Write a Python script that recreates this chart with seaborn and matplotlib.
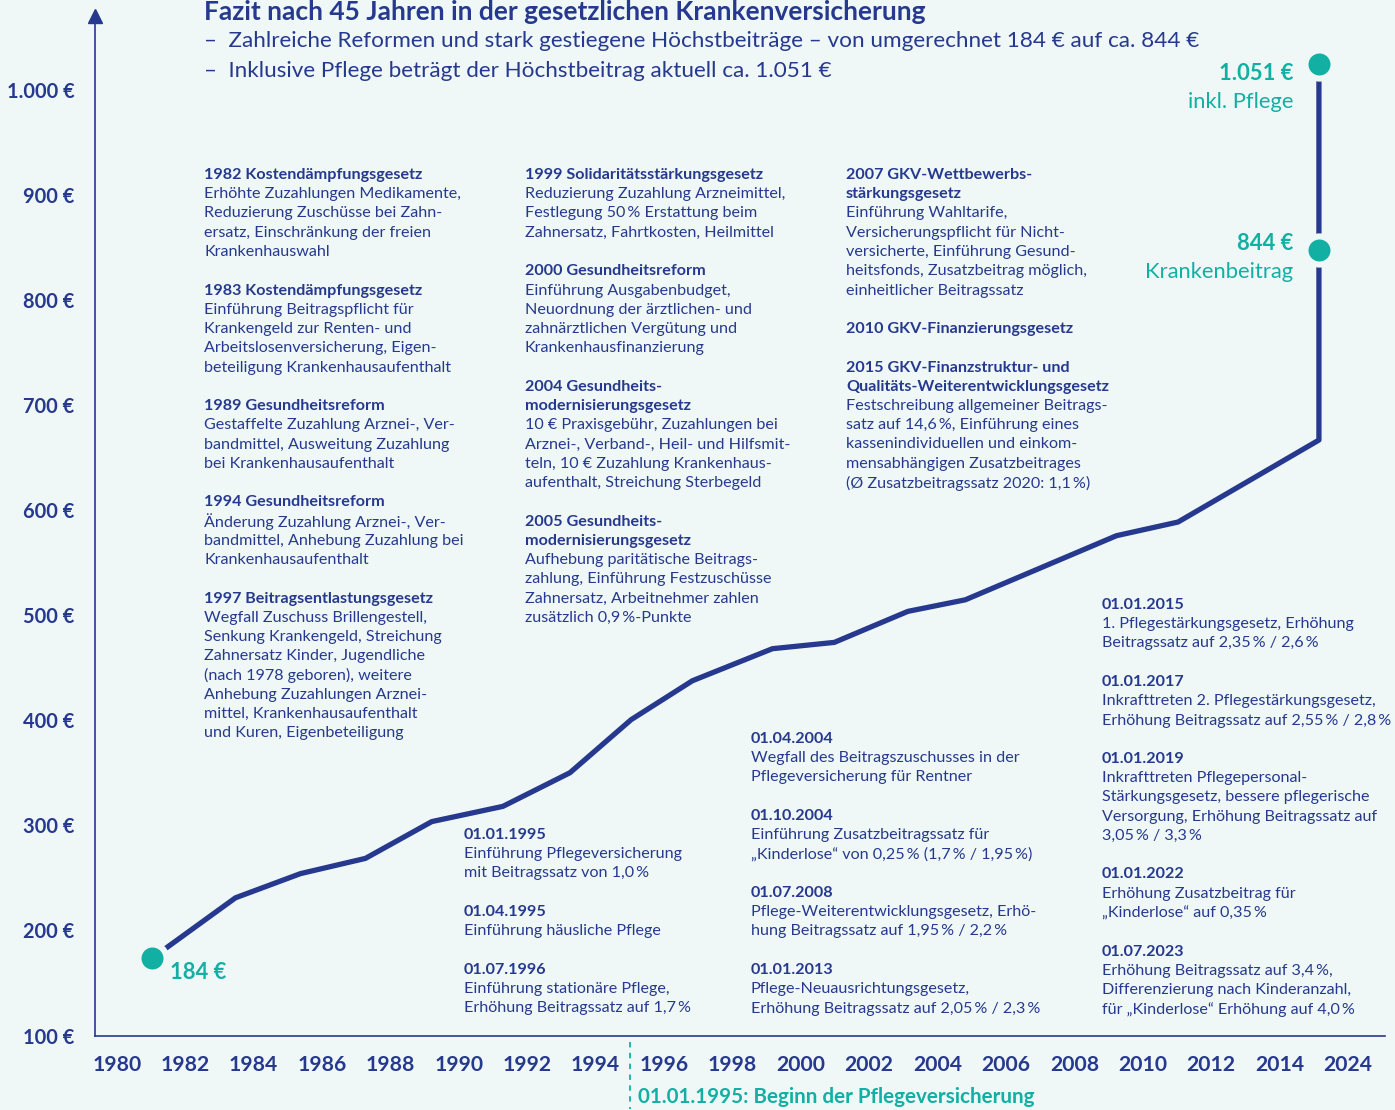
import matplotlib.pyplot as plt
import seaborn as sns
import pandas as pd

W, H = 1395, 1110
BG = '#eff8f7'
NAVY = '#26398e'
TEAL = '#12b0a3'

# line data (Höchstbeitrag in €)
jahre = [1981.03, 1983.47, 1985.37, 1987.27, 1989.21, 1991.29, 1993.25, 1995.04,
         1996.83, 1999.17, 2000.98, 2003.13, 2004.81, 2009.23, 2011.03, 2015.15,
         2015.15, 2015.15]
beitrag = [173.5, 231, 254, 268.5, 303.5, 318, 350, 400.5,
           437.5, 468, 474, 503.5, 514.5, 575.5, 588.5, 666.5,
           847.5, 1024]

# highlighted points
punkt_jahre = [1981.03, 2015.15, 2015.15]
punkt_werte = [173.5, 847.5, 1024]

x_ticks = list(range(1980, 2017, 2))
x_labels = [str(j) for j in range(1980, 2015, 2)] + ['2024']
y_ticks = [100, 200, 300, 400, 500, 600, 700, 800, 900, 1000]
y_labels = ['100 €', '200 €', '300 €', '400 €', '500 €', '600 €', '700 €',
            '800 €', '900 €', '1.000 €']

pflege_start = 1995.0

title = 'Fazit nach 45 Jahren in der gesetzlichen Krankenversicherung'
subtitle = ['–  Zahlreiche Reformen und stark gestiegene Höchstbeiträge – von umgerechnet 184 € auf ca. 844 €',
            '–  Inklusive Pflege beträgt der Höchstbeitrag aktuell ca. 1.051 €']

# "*" = bold line, "" = empty line
col_1 = ['*1982 Kostendämpfungsgesetz', 'Erhöhte Zuzahlungen Medikamente,',
         'Reduzierung Zuschüsse bei Zahn-', 'ersatz, Einschränkung der freien',
         'Krankenhauswahl', '',
         '*1983 Kostendämpfungsgesetz', 'Einführung Beitragspflicht für',
         'Krankengeld zur Renten- und', 'Arbeitslosenversicherung, Eigen-',
         'beteiligung Krankenhausaufenthalt', '',
         '*1989 Gesundheitsreform', 'Gestaffelte Zuzahlung Arznei-, Ver-',
         'bandmittel, Ausweitung Zuzahlung', 'bei Krankenhausaufenthalt', '',
         '*1994 Gesundheitsreform', 'Änderung Zuzahlung Arznei-, Ver-',
         'bandmittel, Anhebung Zuzahlung bei', 'Krankenhausaufenthalt', '',
         '*1997 Beitragsentlastungsgesetz', 'Wegfall Zuschuss Brillengestell,',
         'Senkung Krankengeld, Streichung', 'Zahnersatz Kinder, Jugendliche',
         '(nach 1978 geboren), weitere', 'Anhebung Zuzahlungen Arznei-',
         'mittel, Krankenhausaufenthalt', 'und Kuren, Eigenbeteiligung']

col_2 = ['*1999 Solidaritätsstärkungsgesetz', 'Reduzierung Zuzahlung Arzneimittel,',
         'Festlegung 50\u2009% Erstattung beim', 'Zahnersatz, Fahrtkosten, Heilmittel', '',
         '*2000 Gesundheitsreform', 'Einführung Ausgabenbudget,',
         'Neuordnung der ärztlichen- und', 'zahnärztlichen Vergütung und',
         'Krankenhausfinanzierung', '',
         '*2004 Gesundheits-', '*modernisierungsgesetz',
         '10 € Praxisgebühr, Zuzahlungen bei', 'Arznei-, Verband-, Heil- und Hilfsmit-',
         'teln, 10 € Zuzahlung Krankenhaus-', 'aufenthalt, Streichung Sterbegeld', '',
         '*2005 Gesundheits-', '*modernisierungsgesetz',
         'Aufhebung paritätische Beitrags-', 'zahlung, Einführung Festzuschüsse',
         'Zahnersatz, Arbeitnehmer zahlen', 'zusätzlich 0,9\u2009%-Punkte']

col_3 = ['*2007 GKV-Wettbewerbs-', '*stärkungsgesetz', 'Einführung Wahltarife,',
         'Versicherungspflicht für Nicht-', 'versicherte, Einführung Gesund-',
         'heitsfonds, Zusatzbeitrag möglich,', 'einheitlicher Beitragssatz', '',
         '*2010 GKV-Finanzierungsgesetz', '',
         '*2015 GKV-Finanzstruktur- und', '*Qualitäts-Weiterentwicklungsgesetz',
         'Festschreibung allgemeiner Beitrags-', 'satz auf 14,6\u2009%, Einführung eines',
         'kassenindividuellen und einkom-', 'mensabhängigen Zusatzbeitrages',
         '(Ø Zusatzbeitragssatz 2020: 1,1\u2009%)']

col_4 = ['*01.01.1995', 'Einführung Pflegeversicherung', 'mit Beitragssatz von 1,0\u2009%', '',
         '*01.04.1995', 'Einführung häusliche Pflege', '',
         '*01.07.1996', 'Einführung stationäre Pflege,', 'Erhöhung Beitragssatz auf 1,7\u2009%']

col_5 = ['*01.04.2004', 'Wegfall des Beitragszuschusses in der', 'Pflegeversicherung für Rentner', '',
         '*01.10.2004', 'Einführung Zusatzbeitragssatz für',
         '„Kinderlose“ von 0,25\u2009% (1,7\u2009% / 1,95\u2009%)', '',
         '*01.07.2008', 'Pflege-Weiterentwicklungsgesetz, Erhö-',
         'hung Beitragssatz auf 1,95\u2009% / 2,2\u2009%', '',
         '*01.01.2013', 'Pflege-Neuausrichtungsgesetz,',
         'Erhöhung Beitragssatz auf 2,05\u2009% / 2,3\u2009%']

col_6 = ['*01.01.2015', '1. Pflegestärkungsgesetz, Erhöhung', 'Beitragssatz auf 2,35\u2009% / 2,6\u2009%', '',
         '*01.01.2017', 'Inkrafttreten 2. Pflegestärkungsgesetz,',
         'Erhöhung Beitragssatz auf 2,55\u2009% / 2,8\u2009%', '',
         '*01.01.2019', 'Inkrafttreten Pflegepersonal-', 'Stärkungsgesetz, bessere pflegerische',
         'Versorgung, Erhöhung Beitragssatz auf', '3,05\u2009% / 3,3\u2009%', '',
         '*01.01.2022', 'Erhöhung Zusatzbeitrag für', '„Kinderlose“ auf 0,35\u2009%', '',
         '*01.07.2023', 'Erhöhung Beitragssatz auf 3,4\u2009%,', 'Differenzierung nach Kinderanzahl,',
         'für „Kinderlose“ Erhöhung auf 4,0\u2009%']

sns.set_theme(style='white')
plt.rcParams['font.family'] = ['Lato', 'DejaVu Sans']


def px(x, y):
    return x / W, 1 - y / H


def text_block(fig, x, y0, lines, size=11.6, step=19.25):
    for i, line in enumerate(lines):
        if not line:
            continue
        bold = line.startswith('*')
        fig.text(*px(x, y0 + i * step), line.lstrip('*'), ha='left', va='center',
                 fontsize=size, color=NAVY, fontweight='bold' if bold else 'normal')


fig = plt.figure(figsize=(W / 100, H / 100), dpi=100, facecolor=BG)
ax_left, ax_right, ax_top, ax_bottom = 94.5, 1384.5, 16, 1035.5
ax = fig.add_axes([ax_left / W, 1 - ax_bottom / H, (ax_right - ax_left) / W, (ax_bottom - ax_top) / H])
ax.set_facecolor(BG)

px_per_year = 34.2
px_per_euro = 1.0511
x0 = 1980 - (116.8 - ax_left) / px_per_year
ax.set_xlim(x0, x0 + (ax_right - ax_left) / px_per_year)
ax.set_ylim(100, 100 + (ax_bottom - ax_top) / px_per_euro)

df = pd.DataFrame({'jahr': jahre, 'beitrag': beitrag})
sns.lineplot(data=df, x='jahr', y='beitrag', sort=False, estimator=None,
             color=NAVY, linewidth=3.8, ax=ax, zorder=3)
sns.scatterplot(x=punkt_jahre, y=punkt_werte, s=410, color=TEAL, edgecolor=BG,
                linewidth=4.4, ax=ax, zorder=5, clip_on=False)

ax.set_xlabel('')
ax.set_ylabel('')
ax.set_xticks(x_ticks)
ax.set_xticklabels(x_labels, fontsize=15.2, fontweight='bold', color=NAVY)
ax.set_yticks(y_ticks)
ax.set_yticklabels(y_labels, fontsize=14.4, fontweight='bold', color=NAVY)
ax.tick_params(axis='x', direction='out', length=9, width=1.1, color=NAVY, pad=5)
ax.tick_params(axis='y', direction='out', length=9.5, width=1.1, color=NAVY, pad=5)
for side in ['top', 'right']:
    ax.spines[side].set_visible(False)
for side in ['left', 'bottom']:
    ax.spines[side].set_color(NAVY)
    ax.spines[side].set_linewidth(1.2)
ax.plot([0], [1], marker='^', markersize=10, color=NAVY, transform=ax.transAxes, clip_on=False)

# Beginn der Pflegeversicherung
ax.plot([pflege_start, pflege_start], [-0.006, -0.072], transform=ax.get_xaxis_transform(),
        color=TEAL, linewidth=1.3, linestyle=(0, (3, 3)), clip_on=False)
fig.text(*px(638, 1097), '01.01.1995: Beginn der Pflegeversicherung', ha='left', va='center',
         fontsize=14.9, fontweight='bold', color=TEAL)

# Werte
fig.text(*px(170, 972.5), '184 €', ha='left', va='center', fontsize=15.8, fontweight='bold', color=TEAL)
fig.text(*px(1293, 73), '1.051 €', ha='right', va='center', fontsize=15.8, fontweight='bold', color=TEAL)
fig.text(*px(1293, 101.5), 'inkl. Pflege', ha='right', va='center', fontsize=15.8, color=TEAL)
fig.text(*px(1293, 243.5), '844 €', ha='right', va='center', fontsize=15.8, fontweight='bold', color=TEAL)
fig.text(*px(1293, 272), 'Krankenbeitrag', ha='right', va='center', fontsize=15.8, color=TEAL)

# Titel
fig.text(*px(204, 12), title, ha='left', va='center', fontsize=19, fontweight='bold', color=NAVY)
for i, line in enumerate(subtitle):
    fig.text(*px(204, 41 + i * 30), line, ha='left', va='center', fontsize=16.2,
             fontweight='normal', color=NAVY)

text_block(fig, 204, 175, col_1)
text_block(fig, 525, 175, col_2)
text_block(fig, 846, 175, col_3)
text_block(fig, 464, 835, col_4)
text_block(fig, 751, 739, col_5)
text_block(fig, 1102, 605, col_6)

fig.savefig('out.png', dpi=100, facecolor=BG)
